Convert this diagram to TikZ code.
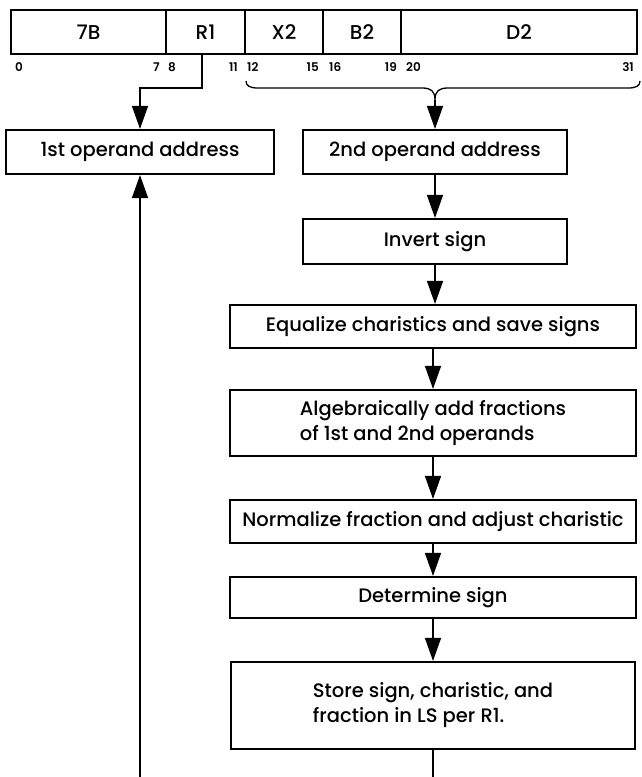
\documentclass[tikz,border=0pt]{standalone}
\usepackage{fontspec}
\setmainfont{Poppins}[UprightFont={* Medium}, BoldFont={* SemiBold}]
\usetikzlibrary{arrows.meta}
\begin{document}
\begin{tikzpicture}[x=1pt,y=-1pt,
  field/.style={draw, line width=1.9pt, minimum height=44pt, inner sep=0pt,
    font=\fontsize{20}{22}\selectfont},
  bit/.style={inner sep=0pt, font=\fontsize{12}{14}\selectfont\bfseries},
  stepbox/.style={draw, line width=2.1pt, inner sep=0pt, align=left,
    font=\fontsize{19.5}{25}\selectfont},
  conn/.style={line width=1.3pt},
  arr/.style={conn, -{Triangle[length=23pt,width=16pt]}},
]
\useasboundingbox (0,0) rectangle (642,777);

% instruction format fields
\node[field, minimum width=155pt] (f7B) at (88.5,32) {7B};
\node[field, minimum width=79pt]  (fR1) at (205.5,32) {R1};
\node[field, minimum width=78pt]  (fX2) at (284,32) {X2};
\node[field, minimum width=78pt]  (fB2) at (362,32) {B2};
\node[field, minimum width=236pt] (fD2) at (519,32) {D2};

% bit positions
\node[bit] (b0)  at (19,67) {0};
\node[bit, anchor=east] (b7)  at (160,67) {7};
\node[bit, anchor=west] (b8)  at (168,67) {8};
\node[bit, anchor=east] (b11) at (238,67) {11};
\node[bit, anchor=west] (b12) at (247,67) {12};
\node[bit, anchor=east] (b15) at (319,67) {15};
\node[bit, anchor=west] (b16) at (329,67) {16};
\node[bit, anchor=east] (b19) at (397,67) {19};
\node[bit, anchor=west] (b20) at (406,67) {20};
\node[bit, anchor=east] (b31) at (634,67) {31};

% operation steps
\node[stepbox, minimum width=268pt, minimum height=44pt] (op1) at (140,152) {1st operand address};
\node[stepbox, minimum width=264pt, minimum height=44pt] (op2) at (435,152) {2nd operand address};
\node[stepbox, minimum width=264pt, minimum height=45pt] (inv) at (435,241.5) {Invert sign};
\node[stepbox, minimum width=406pt, minimum height=43pt] (eq) at (433,326.5) {Equalize charistics and save signs};
\node[stepbox, minimum width=406pt, minimum height=66pt] (alg) at (433,423) {Algebraically add fractions\\of 1st and 2nd operands};
\node[stepbox, minimum width=406pt, minimum height=43pt] (norm) at (433,521.5) {Normalize fraction and adjust charistic};
\node[stepbox, minimum width=406pt, minimum height=41pt] (det) at (433,597.5) {Determine sign};
\node[stepbox, minimum width=404pt, minimum height=87pt] (store) at (433,705.5) {Store sign, charistic, and\\fraction in LS per R1.};

% free ends of the connectors
\coordinate (brL) at (246,81);
\coordinate (brC) at (435,100);
\coordinate (brR) at (640,81);
\coordinate (lbot) at (140,777);
\coordinate (rbot) at (435,777);

% R1 selects the first operand
\draw[arr] ([xshift=-3.5pt]fR1.south) -- ++(0,33) -| (op1.north);

% brace over X2, B2, D2 feeding the second operand address
\draw[conn] (brL) .. controls (246,86) and (250,88) .. (258,88) -- (422,88)
  .. controls (431,88) and (435,91) .. (brC)
  .. controls (435,91) and (439,88) .. (448,88) -- (628,88)
  .. controls (636,88) and (640,86) .. (brR);
\draw[arr] (brC) -- (op2.north);

% main sequence
\draw[arr] (op2.south) -- (inv.north);
\draw[arr] (inv.south) -- (inv.south |- eq.north);
\draw[arr] (eq.south) -- (alg.north);
\draw[arr] (alg.south) -- (norm.north);
\draw[arr] (norm.south) -- (det.north);
\draw[arr] (det.south) -- (store.north);

% result returns to the first operand location
\draw[conn] (store.south) -- (store.south |- rbot);
\draw[arr] (lbot) -- (op1.south);
\end{tikzpicture}
\end{document}
